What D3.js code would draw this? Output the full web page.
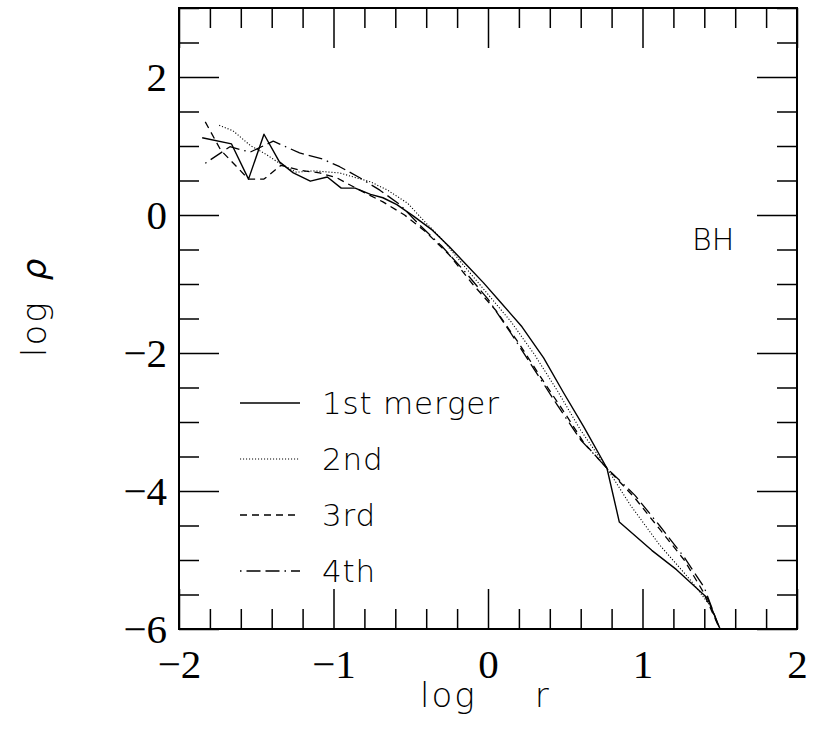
<!DOCTYPE html>
<html>
<head>
<meta charset="utf-8">
<script src="https://cdn.jsdelivr.net/npm/d3@7"></script>
<style>
  html, body { margin: 0; padding: 0; background: #fff; }
  svg { display: block; }
</style>
</head>
<body>
<svg id="chart" width="814" height="729"></svg>
<script>
// Density profiles of the merger remnant (BH run): log rho vs log r
const logR1st   = [-1.85,-1.66,-1.55,-1.45,-1.35,-1.26,-1.15,-1.04,-0.95,-0.86,-0.76,-0.68,-0.59,-0.48,-0.36,-0.25,-0.14,-0.03,0.08,0.22,0.36,0.49,0.62,0.77,0.85,1.06,1.22,1.42,1.50];
const logRho1st = [1.12,1.03,0.52,1.17,0.77,0.61,0.49,0.55,0.39,0.39,0.30,0.25,0.15,-0.02,-0.22,-0.46,-0.72,-0.98,-1.26,-1.62,-2.07,-2.58,-3.07,-3.67,-4.45,-4.86,-5.14,-5.55,-5.99];

const logR2nd   = [-1.74,-1.65,-1.54,-1.43,-1.35,-1.24,-1.13,-0.96,-0.87,-0.76,-0.65,-0.52,-0.40,-0.31,-0.15,0.00,0.15,0.30,0.45,0.60,0.77,0.92,1.11,1.31,1.44,1.50];
const logRho2nd = [1.30,1.22,1.01,0.87,0.75,0.62,0.64,0.61,0.55,0.48,0.36,0.17,-0.12,-0.32,-0.75,-1.15,-1.55,-2.02,-2.55,-3.12,-3.67,-4.20,-4.78,-5.29,-5.67,-5.99];

const logR3rd   = [-1.83,-1.73,-1.55,-1.45,-1.34,-1.22,-1.09,-0.98,-0.83,-0.68,-0.54,-0.40,-0.25,-0.10,0.05,0.20,0.35,0.50,0.62,0.77,0.95,1.11,1.27,1.39,1.50];
const logRho3rd = [1.35,0.94,0.52,0.52,0.72,0.65,0.61,0.54,0.36,0.19,0.00,-0.25,-0.58,-1.00,-1.38,-1.86,-2.38,-2.88,-3.30,-3.67,-4.10,-4.55,-5.00,-5.45,-6.00];

const logR4th   = [-1.83,-1.67,-1.54,-1.39,-1.22,-1.07,-0.96,-0.83,-0.70,-0.57,-0.44,-0.30,-0.15,0.00,0.15,0.30,0.45,0.60,0.77,0.95,1.11,1.27,1.40,1.50];
const logRho4th = [0.75,0.99,0.91,1.07,0.90,0.81,0.70,0.54,0.36,0.15,-0.15,-0.45,-0.82,-1.22,-1.72,-2.24,-2.76,-3.26,-3.67,-4.06,-4.50,-4.96,-5.40,-6.00];

const seriesNames = ["1st merger", "2nd", "3rd", "4th"];
const xMajorTicks = [-2, -1, 0, 1, 2];
const yMajorTicks = [-6, -4, -2, 0, 2];
const panelLabel = "BH";

// line styles per merger
const dashStyles = [null, "1.1,1.9", "7,5", "1.5,5,14,5,14,5"];
const strokeWidths = [1.4, 1.1, 1.3, 1.3];

const svg = d3.select("#chart");
const plotLeft = 179, plotRight = 797, plotTop = 8, plotBottom = 629;

const x = d3.scaleLinear().domain([-2, 2]).range([plotLeft, plotRight]);
const y = d3.scaleLinear().domain([-6, 3]).range([plotBottom, plotTop]);

const majorLen = 40, minorLen = 20;
const xMinor = d3.range(-2, 2.0001, 0.2).map(v => +v.toFixed(2)).filter(v => !xMajorTicks.some(m => Math.abs(m - v) < 1e-6));
const yMinor = d3.range(-6, 3.0001, 0.5).filter(v => !yMajorTicks.some(m => Math.abs(m - v) < 1e-6));

const fmt = d3.format("d");

function styleAxis(g) {
  g.select(".domain").remove();
  g.selectAll(".tick line").attr("stroke", "#000").attr("stroke-width", 1.5);
}

// bottom axis: labelled majors + minors
svg.append("g").attr("transform", `translate(0,${plotBottom})`)
  .call(d3.axisBottom(x).tickValues(xMajorTicks).tickSize(-majorLen).tickPadding(20).tickFormat(fmt))
  .call(styleAxis)
  .call(g => g.selectAll("text").attr("font-family", "'Liberation Serif', serif").attr("font-size", 41).attr("fill", "#000"));
svg.append("g").attr("transform", `translate(0,${plotBottom})`)
  .call(d3.axisBottom(x).tickValues(xMinor).tickSize(-minorLen).tickFormat(""))
  .call(styleAxis);

// top axis: ticks only
svg.append("g").attr("transform", `translate(0,${plotTop})`)
  .call(d3.axisTop(x).tickValues(xMajorTicks).tickSize(-majorLen).tickFormat(""))
  .call(styleAxis);
svg.append("g").attr("transform", `translate(0,${plotTop})`)
  .call(d3.axisTop(x).tickValues(xMinor).tickSize(-minorLen).tickFormat(""))
  .call(styleAxis);

// left axis: labelled majors + minors
svg.append("g").attr("transform", `translate(${plotLeft},0)`)
  .call(d3.axisLeft(y).tickValues(yMajorTicks).tickSize(-majorLen).tickPadding(12).tickFormat(fmt))
  .call(styleAxis)
  .call(g => g.selectAll("text").attr("font-family", "'Liberation Serif', serif").attr("font-size", 41).attr("fill", "#000"));
svg.append("g").attr("transform", `translate(${plotLeft},0)`)
  .call(d3.axisLeft(y).tickValues(yMinor).tickSize(-minorLen).tickFormat(""))
  .call(styleAxis);

// right axis: ticks only
svg.append("g").attr("transform", `translate(${plotRight},0)`)
  .call(d3.axisRight(y).tickValues(yMajorTicks).tickSize(-majorLen).tickFormat(""))
  .call(styleAxis);
svg.append("g").attr("transform", `translate(${plotRight},0)`)
  .call(d3.axisRight(y).tickValues(yMinor).tickSize(-minorLen).tickFormat(""))
  .call(styleAxis);

// frame
svg.append("rect")
  .attr("x", plotLeft).attr("y", plotTop)
  .attr("width", plotRight - plotLeft).attr("height", plotBottom - plotTop)
  .attr("fill", "none").attr("stroke", "#000").attr("stroke-width", 2);

// profiles
const profiles = [
  d3.zip(logR1st, logRho1st),
  d3.zip(logR2nd, logRho2nd),
  d3.zip(logR3rd, logRho3rd),
  d3.zip(logR4th, logRho4th)
];
const line = d3.line().x(d => x(d[0])).y(d => y(d[1]));

profiles.forEach((pts, i) => {
  svg.append("path")
    .datum(pts)
    .attr("d", line)
    .attr("fill", "none")
    .attr("stroke", "#000")
    .attr("stroke-width", strokeWidths[i])
    .attr("stroke-linejoin", "round")
    .attr("stroke-dasharray", dashStyles[i]);
});

// legend
const sansFont = "'DejaVu Sans', sans-serif";
const legendY0 = 403, legendDy = 56;
seriesNames.forEach((name, i) => {
  const ly = legendY0 + i * legendDy;
  svg.append("line")
    .attr("x1", 240).attr("x2", 300).attr("y1", ly).attr("y2", ly)
    .attr("stroke", "#000").attr("stroke-width", strokeWidths[i])
    .attr("stroke-dasharray", dashStyles[i]);
  svg.append("text")
    .attr("x", 322).attr("y", ly + 11)
    .attr("font-family", sansFont).attr("font-size", 31).attr("font-weight", 300)
    .attr("letter-spacing", 0.8)
    .attr("fill", "#000")
    .text(name);
});

// panel label
svg.append("text")
  .attr("x", 692).attr("y", 250)
  .attr("font-family", sansFont).attr("font-size", 30).attr("font-weight", 300)
  .attr("fill", "#000")
  .text(panelLabel);

// axis titles
const xt = svg.append("text")
  .attr("x", 420).attr("y", 707)
  .attr("font-family", sansFont).attr("font-size", 34).attr("font-weight", 300)
  .attr("letter-spacing", 2)
  .attr("fill", "#000");
xt.append("tspan").text("log");
xt.append("tspan").attr("dx", 58).text("r");

const yt = svg.append("text")
  .attr("transform", "translate(46,357) rotate(-90)")
  .attr("font-family", sansFont).attr("font-size", 34).attr("font-weight", 300)
  .attr("letter-spacing", 2)
  .attr("fill", "#000");
yt.append("tspan").text("log");
yt.append("tspan").attr("dx", 20).attr("font-style", "italic").text("ρ");
</script>
</body>
</html>
